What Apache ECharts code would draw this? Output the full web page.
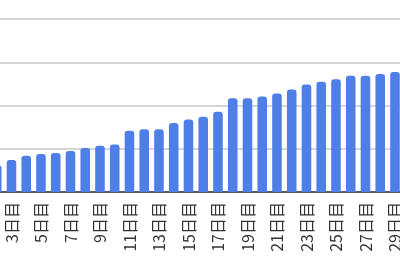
<!DOCTYPE html>
<html><head><meta charset="utf-8">
<script src="https://cdn.jsdelivr.net/npm/echarts@6/dist/echarts.min.js"></script>
<style>
html,body{margin:0;padding:0;width:400px;height:260px;overflow:hidden;background:#fff;}
#c{position:absolute;left:-40px;top:0;width:460px;height:260px;}
</style></head>
<body><div id="c"></div>
<script>
const days = ['1日目','2日目','3日目','4日目','5日目','6日目','7日目','8日目','9日目','10日目',
  '11日目','12日目','13日目','14日目','15日目','16日目','17日目','18日目','19日目','20日目',
  '21日目','22日目','23日目','24日目','25日目','26日目','27日目','28日目','29日目'];
const values = [5.5,6.2,7.4,8.4,8.8,9.0,9.5,10.2,10.7,11.0,
  14.2,14.5,14.5,16.0,16.8,17.4,18.6,21.7,21.7,22.1,
  22.8,23.7,24.9,25.5,26.1,26.9,26.9,27.3,27.8];
const yMin = 0, yMax = 40, yStep = 10;

const chart = echarts.init(document.getElementById('c'), null, {renderer:'canvas'});
chart.setOption({
  animation:false,
  grid:{left:14.6, top:19.2, bottom:68, width:14.75*days.length, containLabel:false},
  xAxis:{type:'category', data:days,
    axisLine:{lineStyle:{color:'#333', width:1.5}},
    axisTick:{show:false},
    axisLabel:{interval:1, rotate:90, margin:10, fontSize:16, color:'#333',
      fontFamily:'"Noto Sans CJK JP", sans-serif'}},
  yAxis:{type:'value', min:yMin, max:yMax, interval:yStep,
    axisLabel:{show:false}, axisLine:{show:false}, axisTick:{show:false},
    splitLine:{lineStyle:{color:'#d6d6d6', width:2}}},
  series:[{type:'bar', data:values, barCategoryGap:'35%',
    itemStyle:{color:'#4e7fe6', borderRadius:[3,3,0,0]}}]
});
</script></body></html>
